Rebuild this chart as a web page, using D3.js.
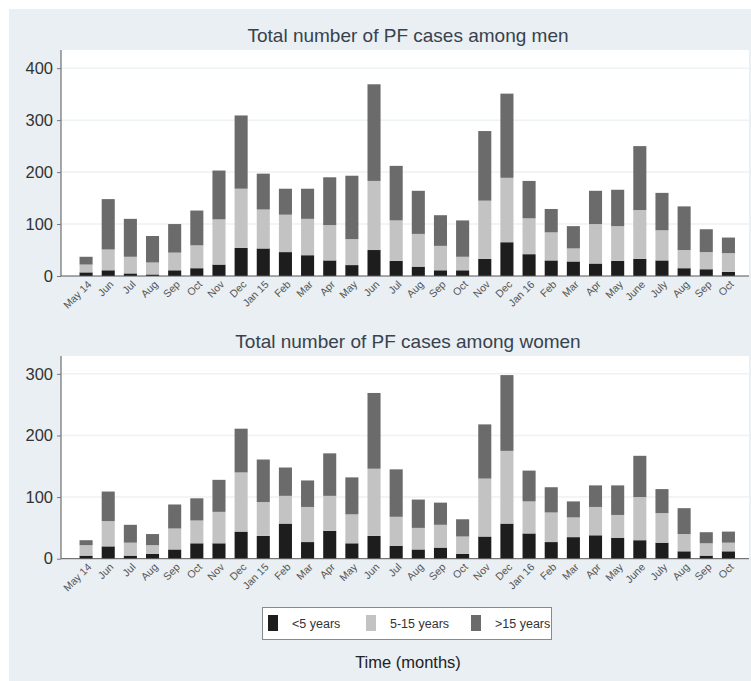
<!DOCTYPE html>
<html>
<head>
<meta charset="utf-8">
<script src="https://cdn.jsdelivr.net/npm/d3@7"></script>
<style>
  body { margin: 0; background: #fff; }
  text { font-family: "Liberation Sans", Arial, sans-serif; }
</style>
</head>
<body>
<svg id="chart" width="751" height="681"></svg>
<script>
// Month labels on the x axis
const months = ["May 14","Jun","Jul","Aug","Sep","Oct","Nov","Dec","Jan 15","Feb","Mar","Apr","May","Jun",
                "Jul","Aug","Sep","Oct","Nov","Dec","Jan 16","Feb","Mar","Apr","May","June","July","Aug","Sep","Oct"]

const ageGroups = ["<5 years", "5-15 years", ">15 years"]

// Men, by age group
const menUnder5 = [7,11,5,3,11,15,22,54,53,46,40,30,21,50,29,18,11,11,33,65,42,30,28,24,29,33,30,15,13,8]
const men5to15  = [15,40,32,23,34,44,87,114,75,72,70,68,50,133,78,63,47,26,112,124,69,54,25,76,67,94,58,35,33,36]
const menOver15 = [15,97,73,51,55,67,94,141,69,50,58,92,122,186,105,83,59,70,134,162,72,45,43,64,70,123,72,84,44,30]

// Women, by age group
const womenUnder5 = [5,20,5,8,15,25,25,44,37,57,27,45,25,37,21,15,18,8,36,57,41,27,35,38,34,30,26,12,5,12]
const women5to15  = [17,41,21,14,34,37,51,96,55,45,57,57,47,109,47,35,37,28,94,118,52,48,32,46,37,70,48,28,20,14]
const womenOver15 = [8,48,29,18,39,36,52,71,69,46,43,69,60,123,77,46,36,28,88,123,50,41,26,35,48,67,39,42,18,18]

const menTicks = [0,100,200,300,400]
const womenTicks = [0,100,200,300]

const colors = ["#1d1d1d", "#c3c3c3", "#6b6b6b"]

const svg = d3.select("#chart")

// light outer background
svg.append("rect")
   .attr("x", 9).attr("y", 9)
   .attr("width", 742).attr("height", 672)
   .attr("fill", "#e9eff2")

function drawPanel(title, series, ticks, yMax, top, bottom) {
  const left = 61, right = 749
  const g = svg.append("g")

  // title
  g.append("text")
   .attr("x", 408).attr("y", top - 8)
   .attr("text-anchor", "middle")
   .attr("font-size", 19)
   .attr("fill", "#37424e")
   .text(title)

  // white plot region
  g.append("rect")
   .attr("x", left).attr("y", top)
   .attr("width", right - left).attr("height", bottom - top)
   .attr("fill", "#fff")

  const x = d3.scaleBand()
              .domain(months.map((m, i) => i))
              .range([75, 739.5])
              .paddingInner(0.41)
              .paddingOuter(0.205)

  const y = d3.scaleLinear().domain([0, yMax]).range([bottom, top])

  // faint grid lines
  g.append("g")
   .selectAll("line")
   .data(ticks.slice(1))
   .enter()
   .append("line")
   .attr("x1", left).attr("x2", right)
   .attr("y1", d => y(d)).attr("y2", d => y(d))
   .attr("stroke", "#edf2f4")
   .attr("stroke-width", 1.5)

  // stack the three age groups
  const rows = months.map((m, i) => ({ i: i, a: series[0][i], b: series[1][i], c: series[2][i] }))
  const stacked = d3.stack().keys(["a", "b", "c"])(rows)

  g.append("g")
   .selectAll("g")
   .data(stacked)
   .enter()
   .append("g")
   .attr("fill", (d, k) => colors[k])
   .selectAll("rect")
   .data(d => d)
   .enter()
   .append("rect")
   .attr("x", d => x(d.data.i))
   .attr("width", x.bandwidth())
   .attr("y", d => y(d[1]))
   .attr("height", d => y(d[0]) - y(d[1]))

  // y axis
  const yAxis = d3.axisLeft(y).tickValues(ticks).tickSize(4).tickPadding(4)
  const ya = g.append("g")
              .attr("transform", `translate(${left},0)`)
              .call(yAxis)
  ya.select(".domain").attr("d", `M0,${top}V${bottom}`).attr("stroke", "#555")
  ya.selectAll(".tick line").attr("stroke", "#777")
  ya.selectAll("text").attr("font-size", 16.5).attr("fill", "#333")
    .style("font-family", "'Liberation Sans', Arial, sans-serif")

  // x axis
  const xAxis = d3.axisBottom(x).tickFormat(i => months[i]).tickSize(0).tickPadding(0)
  const xa = g.append("g")
              .attr("transform", `translate(0,${bottom})`)
              .call(xAxis)
  xa.select(".domain").attr("d", `M${left},0H${right}`).attr("stroke", "#555")
  xa.selectAll("text")
    .attr("font-size", 10.5)
    .attr("fill", "#555")
    .style("font-family", "'Liberation Sans', Arial, sans-serif")
    .attr("text-anchor", "end")
    .attr("dy", 0)
    .attr("transform", "translate(6,9) rotate(-45)")
}

drawPanel("Total number of PF cases among men", [menUnder5, men5to15, menOver15], menTicks, 435, 50, 276)
drawPanel("Total number of PF cases among women", [womenUnder5, women5to15, womenOver15], womenTicks, 329, 356, 558.7)

// legend
const legend = svg.append("g")
legend.append("rect")
      .attr("x", 262.5).attr("y", 607.5)
      .attr("width", 289).attr("height", 32)
      .attr("fill", "#fff")
      .attr("stroke", "#8a8a8a")

const legendX = [268, 366, 471]
const items = legend.selectAll(".item")
                    .data(ageGroups)
                    .enter()
                    .append("g")
                    .attr("transform", (d, k) => `translate(${legendX[k]},615)`)
items.append("rect")
     .attr("width", 10).attr("height", 16)
     .attr("fill", (d, k) => colors[k])
items.append("text")
     .attr("x", 24).attr("y", 12.5)
     .attr("font-size", 12.5)
     .attr("fill", "#333")
     .text(d => d)

svg.append("text")
   .attr("x", 408).attr("y", 668)
   .attr("text-anchor", "middle")
   .attr("font-size", 16.5)
   .attr("fill", "#222")
   .text("Time (months)")
</script>
</body>
</html>
